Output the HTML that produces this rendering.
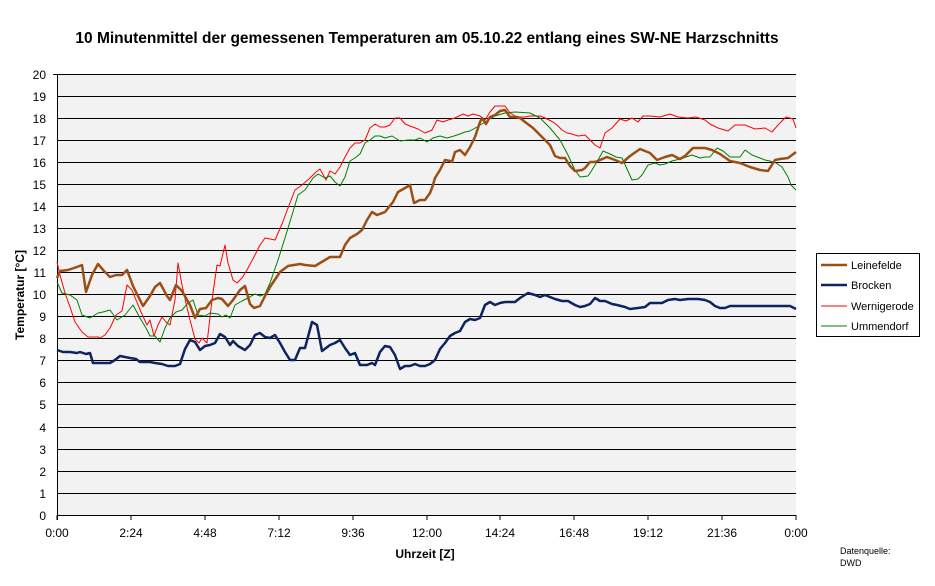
<!DOCTYPE html><html><head><meta charset="utf-8"><style>body{margin:0;background:#fff}svg{display:block;font-family:"Liberation Sans",Arial,sans-serif}</style></head><body>
<svg width="935" height="586" xmlns="http://www.w3.org/2000/svg">
<rect width="935" height="586" fill="#fff"/>
<text x="427" y="43" font-size="15.5" font-weight="bold" text-anchor="middle">10 Minutenmittel der gemessenen Temperaturen am 05.10.22 entlang eines SW-NE Harzschnitts</text>
<rect x="57" y="74" width="739" height="441" fill="#f2f2f2"/>
<g stroke="#000" stroke-width="1">
<line x1="57" x2="796" y1="74.5" y2="74.5"/><line x1="57" x2="796" y1="96.5" y2="96.5"/><line x1="57" x2="796" y1="118.5" y2="118.5"/><line x1="57" x2="796" y1="140.5" y2="140.5"/><line x1="57" x2="796" y1="162.5" y2="162.5"/><line x1="57" x2="796" y1="184.5" y2="184.5"/><line x1="57" x2="796" y1="206.5" y2="206.5"/><line x1="57" x2="796" y1="228.5" y2="228.5"/><line x1="57" x2="796" y1="250.5" y2="250.5"/><line x1="57" x2="796" y1="272.5" y2="272.5"/><line x1="57" x2="796" y1="294.5" y2="294.5"/><line x1="57" x2="796" y1="316.5" y2="316.5"/><line x1="57" x2="796" y1="338.5" y2="338.5"/><line x1="57" x2="796" y1="360.5" y2="360.5"/><line x1="57" x2="796" y1="382.5" y2="382.5"/><line x1="57" x2="796" y1="404.5" y2="404.5"/><line x1="57" x2="796" y1="427.5" y2="427.5"/><line x1="57" x2="796" y1="449.5" y2="449.5"/><line x1="57" x2="796" y1="471.5" y2="471.5"/><line x1="57" x2="796" y1="493.5" y2="493.5"/><line x1="57" x2="796" y1="515.5" y2="515.5"/>
<line x1="57.5" x2="57.5" y1="74" y2="520"/>
<line x1="57" x2="57" y1="515" y2="520"/><line x1="131" x2="131" y1="515" y2="520"/><line x1="205" x2="205" y1="515" y2="520"/><line x1="279" x2="279" y1="515" y2="520"/><line x1="353" x2="353" y1="515" y2="520"/><line x1="427" x2="427" y1="515" y2="520"/><line x1="500" x2="500" y1="515" y2="520"/><line x1="574" x2="574" y1="515" y2="520"/><line x1="648" x2="648" y1="515" y2="520"/><line x1="722" x2="722" y1="515" y2="520"/><line x1="796" x2="796" y1="515" y2="520"/>
<line x1="53" x2="57" y1="74.5" y2="74.5"/>
</g>
<g font-size="12" text-anchor="end">
<text x="46" y="79">20</text><text x="46" y="101">19</text><text x="46" y="123">18</text><text x="46" y="145">17</text><text x="46" y="167">16</text><text x="46" y="189">15</text><text x="46" y="211">14</text><text x="46" y="233">13</text><text x="46" y="255">12</text><text x="46" y="277">11</text><text x="46" y="299">10</text><text x="46" y="321">9</text><text x="46" y="343">8</text><text x="46" y="365">7</text><text x="46" y="387">6</text><text x="46" y="409">5</text><text x="46" y="432">4</text><text x="46" y="454">3</text><text x="46" y="476">2</text><text x="46" y="498">1</text><text x="46" y="520">0</text>
</g>
<g font-size="12" text-anchor="middle">
<text x="57" y="537">0:00</text><text x="131" y="537">2:24</text><text x="205" y="537">4:48</text><text x="279" y="537">7:12</text><text x="353" y="537">9:36</text><text x="427" y="537">12:00</text><text x="500" y="537">14:24</text><text x="574" y="537">16:48</text><text x="648" y="537">19:12</text><text x="722" y="537">21:36</text><text x="796" y="537">0:00</text>
</g>
<text x="425" y="558" font-size="12" font-weight="bold" text-anchor="middle">Uhrzeit [Z]</text>
<text transform="translate(24,295) rotate(-90)" font-size="12" font-weight="bold" text-anchor="middle">Temperatur [°C]</text>
<text x="840" y="554" font-size="9">Datenquelle:</text><text x="840" y="566" font-size="9">DWD</text>
<g fill="none" stroke-linejoin="round">
<polyline stroke="#ff0000" stroke-width="1" points="57,262 60,275 65,293 70,307 75,322 82,332 88,337 98,337 100,338 105,335 110,328 116,315 122,311 127,285 132,290 136,300 141,312 147,325 150,320 154,336 158,325 162,317 166,322 170,325 175,300 178,263 182,285 186,303 190,320 195,339 199,343 202,338 207,343 212,300 217,265 220,266 225,245 228,263 233,280 237,283 242,278 247,270 255,255 260,245 265,238 275,240 282,224 288,208 295,190 302,185 310,178 316,172 320,169 326,180 330,171 335,174 340,167 345,157 350,148 355,143 360,143 365,140 370,128 375,124 380,127 385,127 390,125 395,118 400,118 405,124 410,126 418,129 425,133 432,130 437,120 443,122 448,120 455,118 463,114 468,116 473,114 480,116 485,120 490,112 495,106 500,106 505,106 510,113 515,116 520,117 525,117 530,116 540,116 545,118 553,122 557,125 562,130 567,133 572,134 578,136 585,135 590,140 595,145 600,148 605,133 612,128 620,119 626,121 632,118 638,122 643,116 650,116 660,117 670,114 678,117 688,118 696,117 705,120 710,124 718,128 728,131 735,125 745,125 755,129 765,128 772,132 778,125 786,117 793,119 796,128"/>
<polyline stroke="#008000" stroke-width="1" points="57,282 62,293 70,295 77,300 82,315 90,318 98,313 103,312 110,310 117,320 125,315 133,305 140,318 146,328 150,336 155,336 160,342 165,328 170,318 176,312 182,310 188,303 193,300 198,315 205,316 210,313 218,314 222,317 226,315 230,318 235,305 242,301 248,298 255,294 260,296 265,294 270,283 278,260 285,238 292,215 298,195 305,190 313,178 318,174 325,178 330,176 335,182 340,186 345,177 350,161 355,158 360,154 365,143 370,140 375,136 380,136 385,138 392,136 400,141 408,140 415,140 420,138 427,142 433,138 440,136 447,138 454,136 460,134 465,132 470,131 477,127 485,122 495,116 505,113 515,112 530,113 540,118 550,128 560,140 568,155 575,170 580,177 588,176 592,170 598,160 603,151 610,154 616,157 622,158 632,180 638,179 642,175 648,165 655,163 660,165 665,164 672,161 680,159 692,155 700,158 705,157 710,157 717,148 723,151 730,157 740,157 745,150 752,155 760,158 765,160 770,161 776,163 782,167 788,177 791,185 796,190"/>
<polyline stroke="#9c4f14" stroke-width="2.5" points="57,278 60,271 68,270 77,267 82,265 86,292 92,275 98,264 104,271 110,277 116,275 122,275 127,270 133,286 139,298 143,306 150,296 155,287 160,283 167,296 170,300 176,285 182,291 190,305 195,318 200,309 206,308 212,300 218,298 222,299 228,306 233,300 240,290 245,286 250,304 254,308 260,306 265,296 270,287 280,272 288,266 300,264 305,265 315,266 320,263 330,257 340,257 345,245 350,238 357,234 362,230 367,220 372,212 377,215 385,212 393,202 398,192 405,188 410,185 414,203 420,200 425,200 430,193 433,185 435,178 440,170 445,160 450,161 452,162 455,152 460,150 465,155 470,147 475,137 480,122 482,118 486,124 490,117 495,115 500,111 505,110 510,117 515,117 520,118 525,122 533,128 540,135 550,145 555,156 560,158 565,158 570,166 575,171 582,170 585,168 590,162 595,162 600,160 607,157 615,160 622,163 630,156 640,149 650,153 657,160 665,157 672,155 680,159 685,156 693,148 705,148 712,150 720,154 730,161 740,163 750,167 760,170 768,171 775,160 780,159 788,158 796,152"/>
<polyline stroke="#0d2460" stroke-width="2.5" points="57,350 63,352 70,352 77,353 80,352 86,354 90,353 93,363 100,363 110,363 115,360 120,356 125,357 130,358 136,359 140,362 150,362 155,363 162,364 168,366 175,366 180,364 185,349 190,340 195,342 200,350 205,346 210,345 215,343 220,334 225,337 230,345 233,341 238,346 245,350 250,345 255,335 260,333 265,337 270,338 275,335 280,343 285,352 290,360 295,360 300,348 305,348 312,322 317,325 322,351 330,345 335,343 340,340 345,348 350,355 355,353 360,365 367,365 372,363 375,365 380,352 385,346 390,347 395,355 400,369 405,366 410,366 415,364 420,366 425,366 430,364 435,360 440,349 445,343 450,336 455,333 460,331 465,322 470,319 475,320 480,318 485,305 490,302 495,305 500,303 505,302 515,302 520,298 528,293 535,295 540,297 545,295 550,297 555,299 562,301 568,301 575,305 580,307 585,306 590,304 595,298 600,301 605,301 612,304 617,305 625,307 630,309 638,308 645,307 650,303 655,303 662,303 668,300 675,299 680,300 688,299 698,299 705,300 710,302 715,306 720,308 725,308 730,306 740,306 790,306 796,309"/>
</g>
<rect x="816.5" y="253.5" width="103" height="83" fill="#fff" stroke="#000"/>
<line x1="821" x2="847" y1="265" y2="265" stroke="#9c4f14" stroke-width="2.5"/>
<line x1="821" x2="847" y1="285" y2="285" stroke="#0d2460" stroke-width="2.5"/>
<line x1="821" x2="847" y1="306" y2="306" stroke="#ff0000"/>
<line x1="821" x2="847" y1="326" y2="326" stroke="#008000"/>
<g font-size="11"><text x="851" y="269">Leinefelde</text><text x="851" y="289">Brocken</text><text x="851" y="310">Wernigerode</text><text x="851" y="330">Ummendorf</text></g>
</svg></body></html>
